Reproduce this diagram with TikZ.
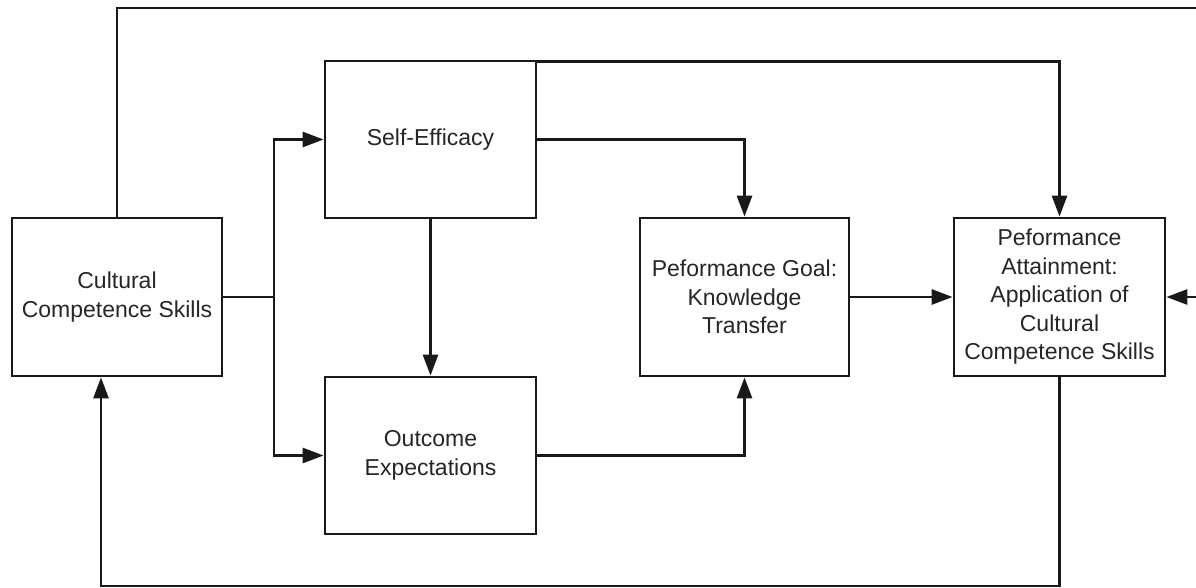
\documentclass[tikz,border=0pt]{standalone}
\usepackage{fontspec}
\setmainfont{Liberation Sans}
\usetikzlibrary{arrows.meta,calc}
\begin{document}
\begin{tikzpicture}[x=1pt,y=-1pt,
  box/.style={draw=black!90,line width=2.8pt,fill=white,align=center,inner sep=2pt,
    font=\fontsize{23}{28.5}\selectfont,text=black!85},
  conn/.style={draw=black!90,line width=2.8pt},
  arr/.style={conn,-{Triangle[length=21pt,width=15pt]}}]
\useasboundingbox (0,0) rectangle (1196,588);
\node[box,minimum width=210pt,minimum height=158pt] (cult) at (117,297) {Cultural\\Competence Skills};
\node[box,minimum width=211pt,minimum height=157pt] (se) at (430.5,139.5) {Self-Efficacy};
\node[box,minimum width=211pt,minimum height=157pt] (oe) at (430.5,455.5) {Outcome\\Expectations};
\node[box,minimum width=209pt,minimum height=158pt] (goal) at (744.5,297) {Peformance Goal:\\Knowledge\\Transfer};
\node[box,minimum width=211pt,minimum height=158pt] (att) at (1059.5,297) {Peformance\\Attainment:\\Application of\\Cultural\\Competence Skills};
\coordinate (tr) at (1200,8);
\coordinate (sp) at (274,297);
\coordinate (bot) at (101,586);
\draw[arr] (cult.north) |- (tr) |- (att.east);
\draw[conn] (cult.east) -- (sp);
\draw[arr] (sp) |- (se.west);
\draw[arr] (sp) |- (oe.west);
\draw[arr] ([yshift=-2pt]se.north east) -| (att.north);
\draw[arr] (se.east) -| (goal.north);
\draw[arr] (se.south) -- (oe.north);
\draw[arr] (oe.east) -| (goal.south);
\draw[arr] (goal) -- (att);
\draw[arr] (att.south) |- (bot) -- ([xshift=-16pt]cult.south);
\end{tikzpicture}
\end{document}
